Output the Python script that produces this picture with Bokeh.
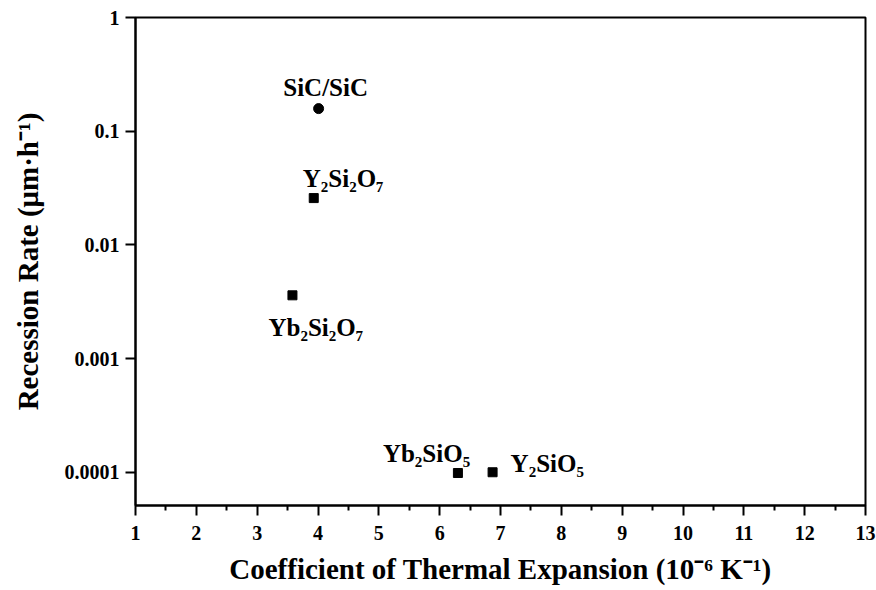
from bokeh.plotting import figure
from bokeh.models import FixedTicker, CustomJSTickFormatter, ColumnDataSource
from bokeh.embed import file_html
from bokeh.resources import INLINE
from bokeh.core.properties import value

# ---- data ----
materials = ["SiC/SiC", "Y\u2082Si\u2082O\u2087", "Yb\u2082Si\u2082O\u2087", "Yb\u2082SiO\u2085", "Y\u2082SiO\u2085"]
cte = [4.01, 3.93, 3.58, 6.30, 6.87]
recession = [0.158, 0.0258, 0.0036, 0.0000985, 0.0001]
marker_kind = ["circle", "square", "square", "square", "square"]

x_ticks = [1, 2, 3, 4, 5, 6, 7, 8, 9, 10, 11, 12, 13]
y_ticks = [0.0001, 0.001, 0.01, 0.1, 1]

# label placement (styles, in screen pixels)
label_dx = [7, -11, -24, -75, 18]
label_dy = [-21, -20, 32, -20, -9]
label_align = ["center", "left", "left", "left", "left"]

FONT = "Liberation Serif"

p = figure(width=876, height=590, x_range=(1, 13), y_range=(5.1e-5, 1),
           y_axis_type="log", output_backend="svg", toolbar_location=None,
           min_border_left=135, min_border_right=11, min_border_top=17,
           min_border_bottom=85)
p.grid.visible = False
p.outline_line_color = "black"
p.outline_line_width = 2
p.background_fill_color = "white"
p.border_fill_color = "white"

# x axis
xa = p.xaxis[0]
xa.ticker = FixedTicker(ticks=x_ticks,
                        minor_ticks=[t + 0.5 for t in x_ticks[:-1]])
xa.axis_label = "Coefficient of Thermal Expansion (10\u207b\u2076 K\u207b\u00b9)"
# y axis
ya = p.yaxis[0]
ya.ticker = FixedTicker(ticks=y_ticks, minor_ticks=[])
ya.formatter = CustomJSTickFormatter(code="return parseFloat(tick.toPrecision(1)).toString();")
ya.axis_label = "Recession Rate (\u03bcm\u00b7h\u207b\u00b9)"

for ax in (xa, ya):
    ax.axis_line_width = 2
    ax.axis_line_color = "black"
    ax.major_tick_line_width = 2
    ax.minor_tick_line_width = 2
    ax.major_tick_in = 0
    ax.minor_tick_in = 0
    ax.major_tick_out = 10
    ax.minor_tick_out = 5
    ax.major_label_text_font = FONT
    ax.major_label_text_font_style = "bold"
    ax.major_label_text_font_size = "20px"
    ax.major_label_text_color = "black"
    ax.axis_label_text_font = FONT
    ax.axis_label_text_font_style = "bold"
    ax.axis_label_text_font_size = "29px"
    ax.axis_label_text_color = "black"
xa.major_label_standoff = 10
xa.axis_label_standoff = 10
ya.major_label_standoff = 6
ya.axis_label_standoff = 18

src = ColumnDataSource(dict(x=cte, y=recession, name=materials, kind=marker_kind,
                            dx=label_dx, dy=label_dy, align=label_align))

circ = ColumnDataSource(dict(x=[c for c, k in zip(cte, marker_kind) if k == "circle"],
                             y=[r for r, k in zip(recession, marker_kind) if k == "circle"]))
sq = ColumnDataSource(dict(x=[c for c, k in zip(cte, marker_kind) if k == "square"],
                           y=[r for r, k in zip(recession, marker_kind) if k == "square"]))
p.scatter("x", "y", source=circ, marker="circle", size=10, color="black")
p.scatter("x", "y", source=sq, marker="square", size=9, color="black")

p.text("x", "y", text="name", source=src, x_offset="dx", y_offset="dy",
       text_align="align", text_baseline="middle",
       text_font=value(FONT), text_font_style="bold", text_font_size="25px",
       text_color="black")

open("out.html", "w").write(file_html(p, INLINE))
